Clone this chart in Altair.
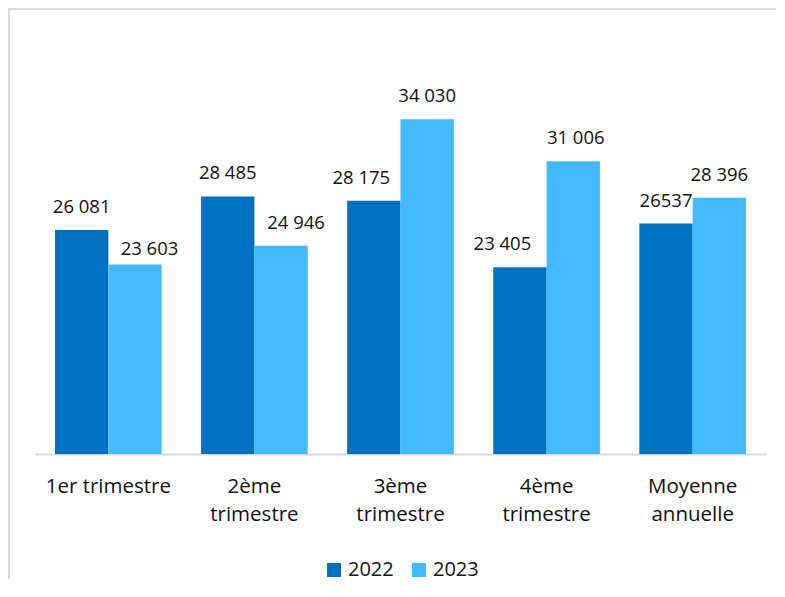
import altair as alt
import pandas as pd

categories = ["1er trimestre", "2ème trimestre", "3ème trimestre", "4ème trimestre", "Moyenne annuelle"]
years = ["2022", "2023"]
values_2022 = [26081, 28485, 28175, 23405, 26537]
values_2023 = [23603, 24946, 34030, 31006, 28396]
labels_2022 = ["26 081", "28 485", "28 175", "23 405", "26537"]
labels_2023 = ["23 603", "24 946", "34 030", "31 006", "28 396"]

rows = []
for i, c in enumerate(categories):
    rows.append({"cat": c, "year": years[0], "value": values_2022[i], "label": labels_2022[i]})
    rows.append({"cat": c, "year": years[1], "value": values_2023[i], "label": labels_2023[i]})
df = pd.DataFrame(rows)

# manual label nudges (pixels), as placed in the original
nudges = {
    ("1er trimestre", "2023"): (14.5, 7.5),
    ("2ème trimestre", "2023"): (15, 0),
    ("3ème trimestre", "2022"): (-12.5, 0),
    ("4ème trimestre", "2022"): (-17.5, 0),
    ("4ème trimestre", "2023"): (2.5, 0),
}

FONT = "Open Sans"
colors = ["#0070C0", "#43BAFF"]

x_enc = alt.X(
    "cat:N",
    sort=categories,
    scale=alt.Scale(paddingInner=0.27, paddingOuter=0.137),
    axis=alt.Axis(
        title=None,
        labelAngle=0,
        ticks=False,
        domainColor="#d9d9d9",
        domainWidth=2,
        labelFont=FONT,
        labelFontSize=20.5,
        labelColor="#111111",
        labelPadding=22,
        labelLineHeight=28,
        labelExpr="datum.label == '1er trimestre' ? datum.label : split(datum.label, ' ')",
    ),
)
xoff = alt.XOffset("year:N", sort=years, scale=alt.Scale(paddingInner=0, paddingOuter=0))
y_scale = alt.Scale(domain=[10000, 40000], zero=False, nice=False)

bars = alt.Chart(df).mark_bar().encode(
    x=x_enc,
    xOffset=xoff,
    y=alt.Y("value:Q", scale=y_scale, axis=None),
    y2=alt.datum(10000),
    color=alt.Color(
        "year:N",
        sort=years,
        scale=alt.Scale(domain=years, range=colors),
        legend=alt.Legend(
            title=None,
            orient="none",
            direction="horizontal",
            legendX=289,
            legendY=524,
            symbolType="square",
            symbolSize=196,
            symbolStrokeWidth=0,
            labelFont=FONT,
            labelFontSize=20,
            labelColor="#111111",
            labelOffset=4,
            columnPadding=15,
            padding=0,
        ),
    ),
)

frame_v = alt.Chart(df).mark_rule(stroke="#d9d9d9", strokeWidth=2).encode(
    x=alt.value(-26), y=alt.value(-28), y2=alt.value(700)
)
frame_h = alt.Chart(df).mark_rule(stroke="#d9d9d9", strokeWidth=2).encode(
    y=alt.value(-27), x=alt.value(-27), x2=alt.value(741)
)

layers = [frame_v, frame_h, bars]
for _, r in df.iterrows():
    dx, dy = nudges.get((r["cat"], r["year"]), (0, 0))
    t = alt.Chart(df).transform_filter(
        (alt.datum.cat == r["cat"]) & (alt.datum.year == r["year"])
    ).mark_text(
        font=FONT, fontSize=18.5, color="#111111", baseline="alphabetic", align="center",
        dx=dx, dy=-17 + dy,
    ).encode(
        x=alt.X("cat:N", sort=categories),
        xOffset=alt.XOffset("year:N", sort=years),
        y=alt.Y("value:Q", scale=y_scale),
        text="label:N",
    )
    layers.append(t)

chart = alt.layer(*layers).properties(
    width=731,
    height=418,
    autosize=alt.AutoSizeParams(type="none"),
    padding={"left": 27, "top": 28, "right": 11, "bottom": 125},
).configure_view(stroke=None)

chart.save("out.html", embed_options={"renderer": "svg", "actions": False})
